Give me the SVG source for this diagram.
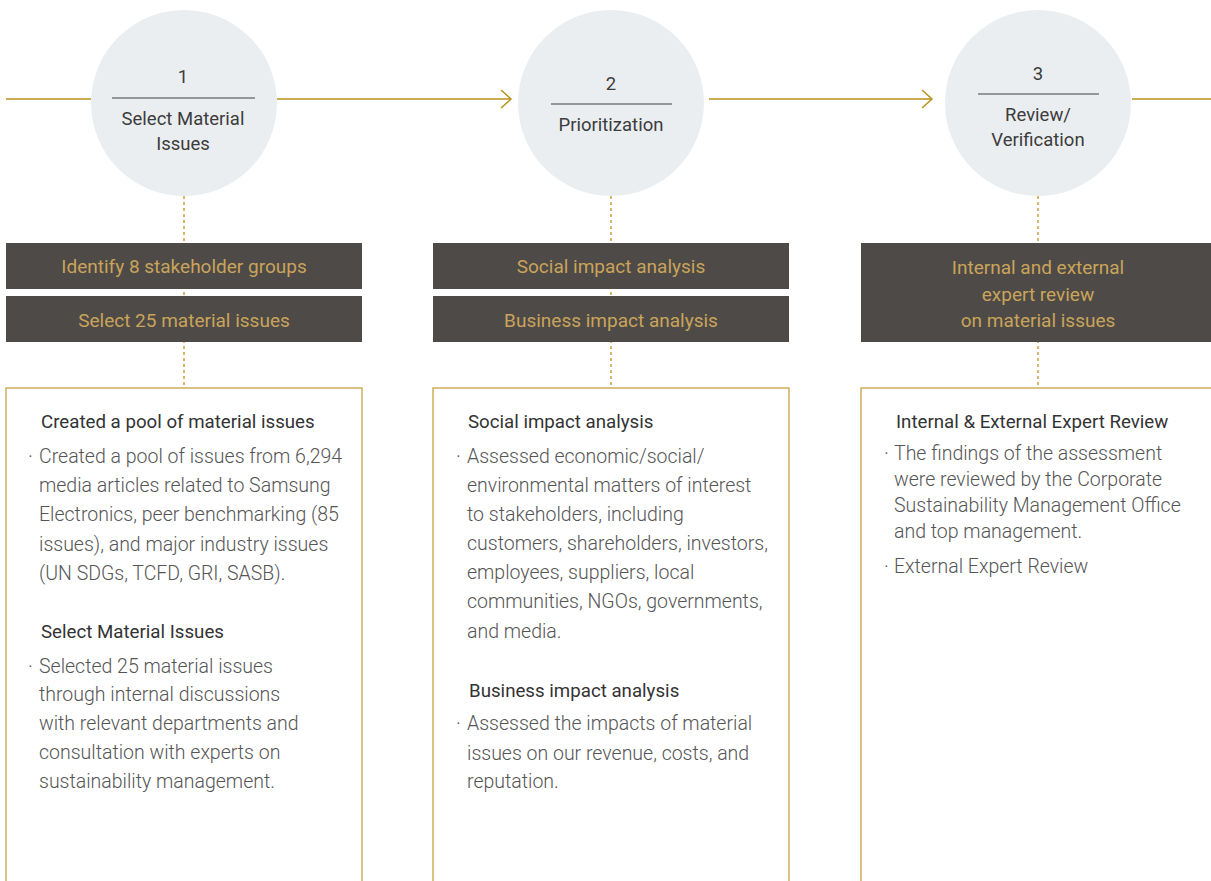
<svg xmlns="http://www.w3.org/2000/svg" width="1211" height="881" viewBox="0 0 1211 881">
<style>
.circ{fill:#ebeef1}
.rule{stroke:#7a7a7a;stroke-width:1.3}
.num,.step{font-family:Roboto,"Liberation Sans",sans-serif;font-size:18.5px;fill:#3c3c3c;text-anchor:middle}
.flow{stroke:#b8901c;stroke-width:1.5;fill:none}
.dot{stroke:#c9a040;stroke-width:1.5;stroke-dasharray:3 3;fill:none}
.dark{fill:#4e4a48}
.dtx{font-family:Roboto,"Liberation Sans",sans-serif;font-size:19px;fill:#c9a45a;text-anchor:middle}
.box{fill:#fff;stroke:#c9a040;stroke-width:1.3}
.ttl{font-family:Roboto,"Liberation Sans",sans-serif;font-size:18.7px;fill:#333}
.body{font-family:Roboto,"Liberation Sans",sans-serif;font-size:19.5px;fill:#555;font-weight:300}
</style>
<rect width="1211" height="881" fill="#fff"/>
<g id="connectors">
<line class="flow" x1="6" y1="99" x2="91" y2="99"/>
<line class="flow" x1="277" y1="99" x2="510" y2="99"/>
<polyline class="flow" points="501,90 511,99 501,108"/>
<line class="flow" x1="709" y1="99" x2="931" y2="99"/>
<polyline class="flow" points="922,90 932,99 922,108"/>
<line class="flow" x1="1132" y1="99" x2="1211" y2="99"/>
<line class="dot" x1="184" y1="196" x2="184" y2="388"/>
<line class="dot" x1="611" y1="196" x2="611" y2="388"/>
<line class="dot" x1="1038" y1="196" x2="1038" y2="388"/>
</g>
<g id="step1">
<circle class="circ" cx="184" cy="103" r="93"/>
<line class="rule" x1="112" y1="98" x2="255" y2="98"/>
<text class="num" x="183" y="83">1</text>
<text class="step" x="183" y="125">Select Material</text>
<text class="step" x="183" y="150">Issues</text>
</g>
<g id="step2">
<circle class="circ" cx="611" cy="103" r="93"/>
<line class="rule" x1="551" y1="104" x2="672" y2="104"/>
<text class="num" x="611" y="90">2</text>
<text class="step" x="611" y="131">Prioritization</text>
</g>
<g id="step3">
<circle class="circ" cx="1038" cy="103" r="93"/>
<line class="rule" x1="978" y1="94" x2="1099" y2="94"/>
<text class="num" x="1038" y="80">3</text>
<text class="step" x="1038" y="121">Review/</text>
<text class="step" x="1038" y="146">Verification</text>
</g>
<g id="tag1a">
<rect class="dark" x="6" y="243" width="356" height="46"/>
<text class="dtx" x="184" y="273">Identify 8 stakeholder groups</text>
</g>
<g id="tag1b">
<rect class="dark" x="6" y="296" width="356" height="46"/>
<text class="dtx" x="184" y="327">Select 25 material issues</text>
</g>
<g id="tag2a">
<rect class="dark" x="433" y="243" width="356" height="46"/>
<text class="dtx" x="611" y="273">Social impact analysis</text>
</g>
<g id="tag2b">
<rect class="dark" x="433" y="296" width="356" height="46"/>
<text class="dtx" x="611" y="327">Business impact analysis</text>
</g>
<g id="tag3">
<rect class="dark" x="861" y="243" width="352" height="99"/>
<text class="dtx" x="1038" y="274">Internal and external</text>
<text class="dtx" x="1038" y="301">expert review</text>
<text class="dtx" x="1038" y="327">on material issues</text>
</g>
<g id="detail1">
<rect class="box" x="6" y="388" width="356" height="500"/>
<text class="ttl" x="41" y="428">Created a pool of material issues</text>
<text class="body" x="28" y="463">·</text>
<text class="body" x="39" y="463">Created a pool of issues from 6,294</text>
<text class="body" x="39" y="492">media articles related to Samsung</text>
<text class="body" x="39" y="521">Electronics, peer benchmarking (85</text>
<text class="body" x="39" y="551">issues), and major industry issues</text>
<text class="body" x="39" y="580">(UN SDGs, TCFD, GRI, SASB).</text>
<text class="ttl" x="41" y="638">Select Material Issues</text>
<text class="body" x="28" y="673">·</text>
<text class="body" x="39" y="673">Selected 25 material issues</text>
<text class="body" x="39" y="701">through internal discussions</text>
<text class="body" x="39" y="730">with relevant departments and</text>
<text class="body" x="39" y="759">consultation with experts on</text>
<text class="body" x="39" y="788">sustainability management.</text>
</g>
<g id="detail2">
<rect class="box" x="433" y="388" width="356" height="500"/>
<text class="ttl" x="468" y="428">Social impact analysis</text>
<text class="body" x="456" y="463">·</text>
<text class="body" x="467" y="463">Assessed economic/social/</text>
<text class="body" x="467" y="492">environmental matters of interest</text>
<text class="body" x="467" y="521">to stakeholders, including</text>
<text class="body" x="467" y="550">customers, shareholders, investors,</text>
<text class="body" x="467" y="579">employees, suppliers, local</text>
<text class="body" x="467" y="608">communities, NGOs, governments,</text>
<text class="body" x="467" y="638">and media.</text>
<text class="ttl" x="469" y="697">Business impact analysis</text>
<text class="body" x="456" y="730">·</text>
<text class="body" x="467" y="730">Assessed the impacts of material</text>
<text class="body" x="467" y="760">issues on our revenue, costs, and</text>
<text class="body" x="467" y="788">reputation.</text>
</g>
<g id="detail3">
<rect class="box" x="861" y="388" width="360" height="500"/>
<text class="ttl" x="896" y="428">Internal &amp; External Expert Review</text>
<text class="body" x="884" y="460">·</text>
<text class="body" x="894" y="460">The findings of the assessment</text>
<text class="body" x="894" y="486">were reviewed by the Corporate</text>
<text class="body" x="894" y="512">Sustainability Management Office</text>
<text class="body" x="894" y="538">and top management.</text>
<text class="body" x="884" y="573">·</text>
<text class="body" x="894" y="573">External Expert Review</text>
</g>
</svg>
